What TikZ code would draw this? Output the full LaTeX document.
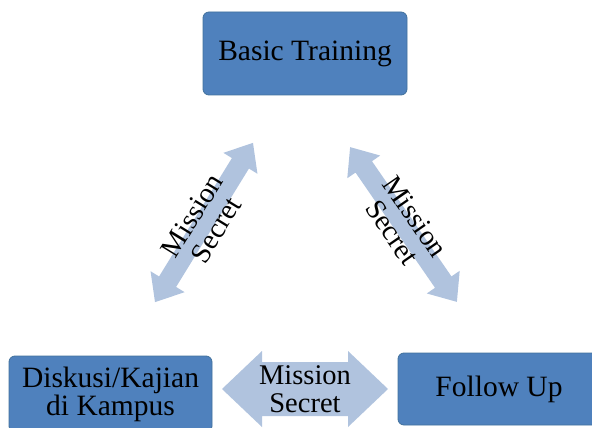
\documentclass[tikz,border=0pt]{standalone}
\usepackage{fontspec}
\setmainfont{LiberationSerif}[Extension=.ttf, UprightFont=*-Regular, BoldFont=*-Bold, ItalicFont=*-Italic, BoldItalicFont=*-BoldItalic]
\definecolor{boxblue}{HTML}{4F81BD}
\definecolor{boxedge}{HTML}{41719C}
\definecolor{arrowblue}{HTML}{B0C3DE}
\newcommand\lbl{\fontsize{28.5}{28}\selectfont}
\newcommand\boxlbl{\fontsize{29.5}{28}\selectfont}
% #1 half length, #2 shaft half width, #3 head half width, #4 head length
\newcommand\dblarrowpath[4]{(-#1,0) -- (-#1+#4,#3) -- (-#1+#4,#2) -- (#1-#4,#2) -- (#1-#4,#3) -- (#1,0) -- (#1-#4,-#3) -- (#1-#4,-#2) -- (-#1+#4,-#2) -- (-#1+#4,-#3) -- cycle}
\tikzset{
  stepbox/.style={draw=boxedge, line width=0.8pt, fill=boxblue, rounded corners=6pt,
    align=center, font=\boxlbl, inner sep=0pt},
  arrowshape/.style={fill=arrowblue, draw=none},
  arrowlabel/.style={align=center, font=\lbl, inner sep=0pt},
}
\begin{document}
\begin{tikzpicture}[x=1pt,y=-1pt]
\useasboundingbox (0,0) rectangle (592,428);
\clip (0,0) rectangle (592,428);
% boxes
\node[stepbox, minimum width=204pt, minimum height=83pt] (basic) at (305,53.5) {Basic Training};
\node[stepbox, minimum width=203pt, minimum height=76pt] (diskusi) at (110.5,394) {Diskusi/Kajian\\di Kampus};
\node[stepbox, minimum width=202pt, minimum height=72pt] (follow) at (499,389) {Follow Up};
% arrows
\coordinate (hmid) at (305,389);
\coordinate (lmid) at (204,222.5);
\coordinate (rmid) at (403.5,224.5);
\begin{scope}[shift={(hmid)}]
  \path[arrowshape] \dblarrowpath{83}{27}{38}{40};
\end{scope}
\begin{scope}[shift={(lmid)}, rotate=58.4]
  \path[arrowshape] \dblarrowpath{93.5}{10}{20}{24};
\end{scope}
\begin{scope}[shift={(rmid)}, rotate=-55.4]
  \path[arrowshape] \dblarrowpath{94}{10}{20}{24};
\end{scope}
% labels
\node[arrowlabel] (hlabel) at (hmid) {Mission\\Secret};
\node[arrowlabel, rotate=58.4] (llabel) at (lmid) {Mission\\Secret};
\node[arrowlabel, rotate=-55.4] (rlabel) at (rmid) {Mission\\Secret};
\end{tikzpicture}
\end{document}
